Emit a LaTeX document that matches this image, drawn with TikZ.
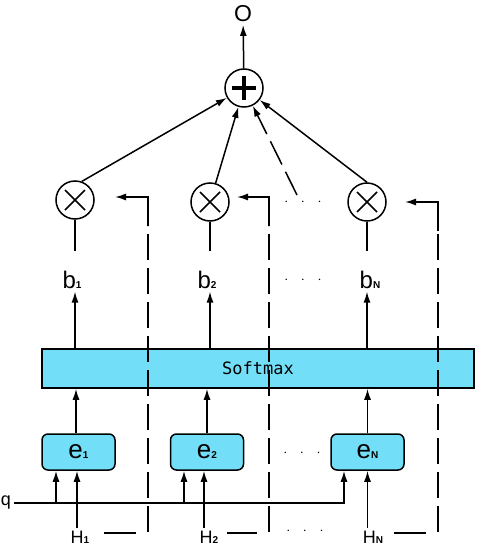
\documentclass[tikz,border=0pt]{standalone}
\usepackage{fontspec}
\setmainfont{Liberation Sans}
\setmonofont{DejaVu Sans Mono}
\usetikzlibrary{arrows.meta,positioning,calc}
\definecolor{boxcyan}{RGB}{114,222,247}
\newcommand{\lowidx}[1]{{\bfseries\fontsize{10}{10}\selectfont #1}}

\tikzset{
	arr/.style={-{Latex[length=11pt,width=7pt]}},
	fb/.style={dash pattern=on 26pt off 8pt},
	lbl/.style={inner sep=2pt,font=\fontsize{24}{24}\selectfont},
	hlbl/.style={inner sep=2pt,font=\fontsize{18}{18}\selectfont},
	ell/.style={inner sep=0pt,font=\fontsize{14}{14}\selectfont},
	mult/.style={circle,draw,minimum size=38pt,inner sep=0pt,
		path picture={\draw[line width=1.7pt]
			([shift={(-10pt,-10pt)}]path picture bounding box.center) -- ([shift={(10pt,10pt)}]path picture bounding box.center)
			([shift={(-10pt,10pt)}]path picture bounding box.center) -- ([shift={(10pt,-10pt)}]path picture bounding box.center);}},
	sum/.style={circle,draw,minimum size=38pt,inner sep=0pt,
		path picture={\draw[line width=3.4pt]
			([xshift=-12pt]path picture bounding box.center) -- ([xshift=12pt]path picture bounding box.center)
			([yshift=-12pt]path picture bounding box.center) -- ([yshift=12pt]path picture bounding box.center);}},
	ebox/.style={draw,fill=boxcyan,rounded corners=6pt,minimum width=73pt,minimum height=36pt,
		font=\fontsize{26}{26}\selectfont},
	soft/.style={draw,fill=boxcyan,minimum width=432pt,minimum height=39pt,
		font=\ttfamily\fontsize{17}{17}\selectfont}
}

\begin{document}
\begin{tikzpicture}[x=1pt,y=-1pt,line width=1.5pt]
	\useasboundingbox (0,0) rectangle (477,546);
	
	% sum and output
	\node[inner sep=2pt,font=\fontsize{23}{23}\selectfont] (out) at (243,14) {O};
	\node[sum] (plus) at (244,88) {};
	
	% products
	\node[mult] (t1) at (75,200) {};
	\node[mult] (t2) at (210,202) {};
	\node[mult] (tN) at (367,202) {};
	\node[ell] (d1) at (303,202) {$\cdot\hspace{9.5pt}\cdot\hspace{9.5pt}\cdot$};
	
	% weights
	\node[lbl] (b1) at (72,280) {b\lowidx{1}};
	\node[lbl] (b2) at (207,280) {b\lowidx{2}};
	\node[lbl] (bN) at (370,280) {b\lowidx{N}};
	\node[ell] (d2) at (303,280) {$\cdot\hspace{9.5pt}\cdot\hspace{9.5pt}\cdot$};
	
	\node[soft] (sm) at (258,368.5) {Softmax};
	
	% scores
	\node[ebox] (e1) at (78.5,452) {e\lowidx{1}};
	\node[ebox] (e2) at (207,452) {e\lowidx{2}};
	\node[ebox] (eN) at (367.5,452) {e\lowidx{N}};
	\node[ell] (d3) at (302,453) {$\cdot\hspace{9.5pt}\cdot\hspace{9.5pt}\cdot$};
	
	% inputs
	\node[hlbl] (q) at (6,503) {q};
	\node[hlbl] (h1) at (80,537) {H\lowidx{1}};
	\node[hlbl] (h2) at (209,537) {H\lowidx{2}};
	\node[hlbl] (hN) at (373,537) {H\lowidx{N}};
	\node[ell] (d4) at (305,531) {$\cdot\hspace{9.5pt}\cdot\hspace{9.5pt}\cdot$};
	
	% into the sum
	\draw[arr] (plus) -- (out);
	\draw[arr] (t1.70) -- (plus);
	\draw[arr] (t2) -- (plus);
	\draw[arr] (tN.north) -- (plus);
	\coordinate (dd) at (297,195);
	\draw[arr,fb] (dd) -- (plus);
	
	% products down to weights
	\draw[shorten >=17pt] (t1) -- (t1 |- b1.north);
	\draw[shorten >=17pt] (t2) -- (t2 |- b2.north);
	\draw[shorten >=17pt] (tN) -- (tN |- bN.north);
	\draw[arr] (sm.north -| t1) -- (t1 |- b1.south);
	\draw[arr] (sm.north -| t2) -- (t2 |- b2.south);
	\draw[arr] (sm.north -| tN) -- (tN |- bN.south);
	
	% scores up to softmax
	\draw[arr] ([xshift=-2.5pt]e1.north) -- ([xshift=-2.5pt]e1.north |- sm.south);
	\draw[arr] (e2.north) -- (e2.north |- sm.south);
	\draw[arr] (eN.north) -- (eN.north |- sm.south);
	
	% query line
	\coordinate (qa1) at ([xshift=-22.5pt]e1.south);
	\coordinate (qa2) at ([xshift=-23pt]e2.south);
	\coordinate (qaN) at ([xshift=-23.5pt]eN.south);
	\draw[arr] (q.east) -| (qaN);
	\draw[arr] (qa1 |- q.east) -- (qa1);
	\draw[arr] (qa2 |- q.east) -- (qa2);
	
	% hidden states
	\draw[arr] ([xshift=-1.5pt]e1.south |- h1.north) -- ([xshift=-1.5pt]e1.south);
	\draw[arr] ([xshift=-3pt]e2.south |- h2.north) -- ([xshift=-3pt]e2.south);
	\draw[arr] (eN.south |- hN.north) -- (eN.south);
	
	% hidden states carried to the products
	\draw (104,533) -- (136,533);
	\draw[fb] (148,532) -- (148,226);
	\draw[arr] (148,226) |- (115,197);
	\draw (227,533) -- (257,533);
	\draw[fb] (269,532) -- (269,226);
	\draw[arr] (269,226) |- (237,197);
	\draw (394,533) -- (426,533);
	\draw[fb] (438,532) -- (438,231);
	\draw[arr] (438,231) |- (405,202);
\end{tikzpicture}
\end{document}
